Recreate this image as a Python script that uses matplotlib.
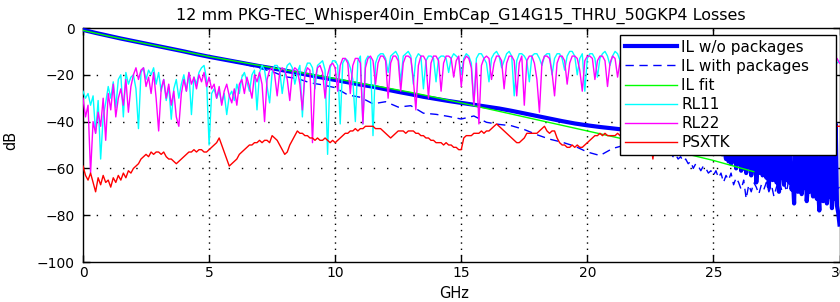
import numpy as np
import matplotlib
matplotlib.use("Agg")
import matplotlib.pyplot as plt

plt.rcParams['font.family'] = ['DejaVu Sans']

TITLE = "12 mm PKG-TEC_Whisper40in_EmbCap_G14G15_THRU_50GKP4 Losses"
LABELS = ["IL w/o packages", "IL with packages", "IL fit", "RL11", "RL22", "PSXTK"]
X_TICKS = [0, 5, 10, 15, 20, 25, 30]
Y_TICKS = [-100, -80, -60, -40, -20, 0]

# ---- IL w/o packages: smooth part (0..23.5 GHz, 0.5 GHz step) ----
il_wo_f_smooth = [0, 0.5, 1, 1.5, 2, 2.5, 3, 3.5, 4, 4.5, 5, 5.5, 6, 6.5, 7, 7.5, 8, 8.5, 9, 9.5,
                  10, 10.5, 11, 11.5, 12, 12.5, 13, 13.5, 14, 14.5, 15, 15.5, 16, 16.5, 17, 17.5,
                  18, 18.5, 19, 19.5, 20, 20.5, 21, 21.5, 22, 22.5, 23, 23.5]
il_wo_smooth = [-0.8, -2.1, -3.3, -4.5, -5.6, -6.7, -7.8, -8.9, -10.0, -11.2, -12.3, -13.3, -14.3, -15.3,
                -16.3, -17.2, -18.2, -19.2, -20.2, -21.2, -22.2, -23.2, -24.2, -25.1, -26.2, -27.3,
                -28.3, -29.4, -30.3, -31.2, -32.0, -32.8, -33.6, -34.4, -35.4, -36.5, -37.6, -38.7,
                -39.8, -40.8, -41.6, -42.3, -42.9, -43.5, -44.0, -44.5, -45.0, -45.5]
# ---- IL w/o packages: noisy tail (24..30 GHz, 0.05 GHz step) ----
il_wo_noisy = [
    -46, -45, -47, -46, -45, -47, -46, -48, -45, -46, -47, -46, -48, -45, -47, -46, -49, -46, -47, -48,
    -47, -51, -46, -53, -48, -52, -47, -54, -49, -53, -56, -50, -57, -48, -58, -52, -57, -47, -60, -55,
    -58, -47, -61, -56, -60, -49, -62, -57, -59, -46, -63, -58, -61, -48, -66, -59, -62, -47, -60, -63,
    -61, -48, -64, -59, -68, -50, -62, -65, -60, -47, -66, -63, -70, -49, -64, -61, -67, -46, -65, -63,
    -66, -48, -69, -64, -75, -51, -67, -70, -65, -45, -71, -66, -68, -47, -74, -67, -70, -44, -68, -72,
    -69, -46, -73, -68, -78, -43, -71, -74, -67, -42, -75, -70, -72, -45, -77, -69, -73, -41, -76, -79,
    -84]

# ---- IL with packages ----
il_w_f_smooth = [0, 0.5, 1, 1.5, 2, 2.5, 3, 3.5, 4, 4.5, 5, 5.5, 6, 6.5, 7, 7.5, 8, 8.5, 9, 9.5,
                 10, 10.5, 11, 11.5, 12, 12.5, 13, 13.5, 14, 14.5, 15, 15.5, 16, 16.5, 17, 17.5,
                 18, 18.5, 19, 19.5, 20, 20.5, 21, 21.5, 22, 22.5, 23]
il_w_smooth = [-1.0, -2.2, -3.4, -4.6, -5.8, -6.9, -8.0, -9.1, -10.2, -11.3, -12.5, -13.5, -14.6, -15.7,
               -17.2, -18.6, -20.8, -21.6, -23.4, -24.3, -25.5, -28.6, -29.6, -32.4, -31.5, -33.8,
               -33.2, -36.4, -36.9, -37.8, -38.9, -37.6, -40.3, -41.2, -41.8, -43.4, -45.6, -47.5,
               -48.8, -50.5, -53.0, -54.5, -51.5, -50.0, -50.5, -51.8, -53.0]
il_w_noisy = [  # 23.1 .. 30.0 GHz, 0.1 GHz step
    -53.5, -54, -53, -55, -54, -56, -55, -57, -56,
    -58, -57, -60, -58, -59, -61, -59, -60, -62, -61,
    -63, -61, -64, -62, -66, -63, -65, -62, -67, -64,
    -66, -69, -65, -73, -67, -70, -66, -68, -71, -67,
    -69, -66, -70, -67, -72, -68, -65, -69, -66, -70,
    -64, -68, -65, -70, -66, -63, -69, -65, -67, -64,
    -66, -70, -64, -68, -65, -71, -63, -67, -66, -69,
    -68]

# ---- IL fit ----
il_fit_f = [0, 1, 2, 3, 4, 5, 6, 7, 8, 9, 10, 11, 12, 13, 14, 15, 16, 17, 18, 19, 20, 21, 22, 23,
            24, 25, 26, 26.6]
il_fit = [-1.0, -3.4, -5.6, -7.8, -10.0, -12.2, -14.1, -16.0, -17.9, -19.7, -21.6, -23.6, -25.5,
          -27.5, -29.7, -32.0, -34.4, -36.8, -39.2, -41.6, -44.0, -46.4, -48.8, -51.4, -54.0,
          -56.6, -59.6, -61.4]

# ---- RL11 (0..30 GHz, 0.1 GHz step) ----
rl11 = [
    -27, -30, -28, -33, -29, -45, -31, -56, -38, -32,
    -25, -30, -23, -34, -22, -20, -38, -19, -24, -21,
    -20, -26, -43, -19, -17, -22, -18, -20, -17, -24,
    -19, -27, -22, -31, -25, -39, -26, -22, -30, -24,
    -20, -27, -19, -37, -21, -24, -19, -17, -16, -22,
    -50, -28, -26, -30, -27, -32, -28, -37, -29, -27,
    -31, -24, -28, -21, -19, -23, -27, -20, -18, -35,
    -19, -16, -18, -25, -32, -19, -16, -16, -18, -28,
    -20, -16, -15, -17, -24, -19, -16, -38, -18, -15,
    -15, -17, -26, -16, -15, -14, -18, -54, -17, -14,
    -14, -16, -41, -15, -13, -14, -17, -22, -40, -14,
    -12, -41, -14, -12, -13, -46, -15, -12, -11, -11,
    -13, -19, -12, -11, -10, -12, -23, -12, -11, -10,
    -12, -24, -13, -11, -12, -26, -14, -12, -12, -13,
    -23, -13, -12, -12, -13, -19, -13, -11, -12, -13,
    -20, -13, -11, -12, -15, -33, -13, -11, -11, -13,
    -15, -23, -13, -11, -10, -12, -17, -14, -11, -10,
    -12, -29, -14, -11, -11, -12, -14, -23, -12, -11,
    -11, -13, -16, -12, -11, -11, -20, -13, -11, -11,
    -13, -18, -12, -10, -10, -12, -20, -13, -11, -27,
    -13, -11, -11, -13, -21, -13, -11, -10, -12, -16,
    -12, -10, -11, -14, -22, -13, -11, -10, -12, -18,
    -12, -10, -11, -15, -21, -13, -11, -10, -12, -19,
    -12, -10, -11, -14, -23, -13, -11, -10, -12, -17,
    -12, -10, -11, -13, -20, -13, -11, -10, -12, -18,
    -12, -10, -11, -14, -22, -13, -11, -10, -12, -16,
    -12, -10, -11, -15, -21, -13, -11, -10, -12, -19,
    -12, -10, -11, -14, -20, -13, -11, -10, -12, -18,
    -12, -10, -11, -13, -22, -13, -11, -10, -12, -17,
    -12, -10, -11, -14, -19, -13, -11, -10, -13, -15,
    -14]

# ---- RL22 (0..30 GHz, 0.1 GHz step) ----
rl22 = [
    -30, -38, -33, -62, -40, -45, -36, -42, -30, -48,
    -28, -35, -24, -38, -30, -26, -33, -22, -36, -25,
    -20, -17, -22, -18, -17, -25, -21, -28, -19, -30,
    -44, -26, -22, -30, -24, -33, -27, -38, -42, -28,
    -22, -27, -19, -24, -21, -26, -20, -23, -19, -25,
    -21, -26, -24, -30, -25, -33, -27, -24, -29, -32,
    -26, -33, -24, -22, -28, -21, -25, -30, -20, -23,
    -19, -24, -40, -22, -18, -17, -20, -29, -19, -17,
    -18, -22, -31, -19, -17, -18, -24, -35, -20, -17,
    -18, -49, -22, -17, -16, -19, -30, -20, -16, -15,
    -17, -27, -16, -13, -13, -15, -28, -16, -13, -13,
    -15, -41, -17, -13, -12, -14, -24, -15, -12, -12,
    -14, -30, -15, -12, -12, -14, -27, -15, -12, -12,
    -13, -22, -35, -16, -12, -12, -14, -30, -15, -12,
    -12, -14, -27, -15, -12, -12, -13, -21, -14, -12,
    -25, -14, -12, -13, -17, -33, -15, -41, -16, -13,
    -12, -13, -22, -15, -12, -12, -14, -26, -15, -12,
    -12, -14, -29, -15, -12, -33, -14, -12, -12, -15,
    -22, -36, -15, -12, -12, -13, -19, -29, -15, -12,
    -12, -14, -24, -15, -12, -12, -13, -18, -27, -14,
    -12, -12, -13, -22, -14, -12, -12, -14, -25, -15,
    -12, -13, -21, -14, -12, -12, -14, -24, -15, -12,
    -12, -13, -20, -14, -12, -12, -13, -26, -15, -12,
    -12, -14, -22, -14, -12, -12, -13, -19, -14, -12,
    -12, -13, -24, -15, -12, -12, -14, -27, -15, -12,
    -12, -13, -21, -14, -12, -12, -13, -23, -14, -12,
    -12, -14, -25, -15, -12, -12, -13, -20, -14, -12,
    -12, -13, -22, -14, -12, -12, -14, -26, -15, -12,
    -12, -13, -19, -14, -12, -12, -13, -24, -15, -12,
    -12, -14, -21, -14, -12, -12, -13, -17, -16, -13,
    -15]

# ---- PSXTK (0..30 GHz, 0.1 GHz step) ----
psxtk = [
    -59, -63, -65, -62, -66, -70, -64, -67, -63, -66,
    -65, -68, -64, -66, -63, -65, -62, -64, -61, -62,
    -60, -59, -58, -56, -55, -54, -55, -53, -54, -53,
    -53, -54, -53, -55, -56, -56, -57, -58, -57, -56,
    -55, -54, -53, -53, -52, -53, -52, -52, -53, -53,
    -52, -51, -50, -49, -47, -50, -53, -56, -59, -58,
    -57, -56, -54, -53, -52, -51, -50, -50, -49, -49,
    -48, -49, -48, -48, -49, -46, -47, -48, -50, -52,
    -54, -53, -50, -48, -46, -44, -45, -45, -46, -46,
    -47, -47, -48, -47, -48, -48, -47, -48, -49, -48,
    -49, -48, -47, -46, -45, -45, -44, -44, -43, -44,
    -43, -43, -42, -42, -42, -42, -43, -43, -43, -44,
    -45, -46, -47, -46, -45, -44, -44, -44, -45, -44,
    -44, -44, -45, -45, -46, -46, -47, -47, -48, -48,
    -49, -49, -49, -50, -49, -50, -50, -51, -51, -52,
    -52, -47, -46, -46, -46, -45, -45, -45, -44, -45,
    -44, -44, -43, -42, -41, -42, -43, -44, -45, -46,
    -47, -48, -49, -49, -48, -47, -45, -45, -45, -45,
    -45, -44, -43, -42, -44, -45, -44, -44, -47, -49,
    -50, -50, -51, -51, -50, -51, -50, -51, -51, -50,
    -49, -48, -47, -46, -46, -45, -46, -45, -46, -46,
    -46, -46, -45, -46, -46, -47, -46, -46, -45, -46,
    -46, -47, -46, -47, -46, -48, -56, -47, -46, -47,
    -46, -45, -46, -47, -46, -45, -46, -45, -46, -47,
    -46, -45, -46, -45, -44, -45, -46, -45, -46, -45,
    -45, -44, -45, -46, -45, -44, -45, -44, -45, -44,
    -44, -45, -44, -43, -44, -45, -44, -43, -44, -43,
    -43, -44, -43, -44, -43, -42, -43, -44, -43, -42,
    -43, -42, -43, -42, -43, -42, -41, -42, -43, -42,
    -42, -43, -42, -41, -42, -43, -42, -41, -42, -42,
    -42]

f_fine = np.arange(len(rl11)) * 0.1
f_il_wo_noisy = 24.0 + np.arange(len(il_wo_noisy)) * 0.05
f_il_w_noisy = 23.1 + np.arange(len(il_w_noisy)) * 0.1

il_wo_f = np.concatenate([il_wo_f_smooth, f_il_wo_noisy])
il_wo = np.concatenate([il_wo_smooth, il_wo_noisy])
il_w_f = np.concatenate([il_w_f_smooth, f_il_w_noisy])
il_w = np.concatenate([il_w_smooth, il_w_noisy])

fig = plt.figure(figsize=(8.4, 3.02), dpi=100)
ax = fig.add_axes([83 / 840, 40 / 302, 756.5 / 840, 234 / 302])

ax.plot(il_wo_f, il_wo, color='#0000FF', lw=3.0, label=LABELS[0], zorder=3)
ax.plot(il_w_f, il_w, color='#0000FF', lw=1.0, ls=(0, (6, 4)), label=LABELS[1], zorder=3)
ax.plot(il_fit_f, il_fit, color='#00FF00', lw=1.0, label=LABELS[2], zorder=3)
ax.plot(f_fine, rl11, color='#00FFFF', lw=1.0, label=LABELS[3], zorder=3)
ax.plot(f_fine, rl22, color='#FF00FF', lw=1.0, label=LABELS[4], zorder=3)
ax.plot(f_fine, psxtk, color='#FF0000', lw=1.0, label=LABELS[5], zorder=3)

ax.set_xlim(0, 30)
ax.set_ylim(-100, 0)
ax.set_xticks(X_TICKS)
ax.set_yticks(Y_TICKS)
ax.set_xticklabels([str(t) for t in X_TICKS])
ax.set_yticklabels([str(t).replace('-', '\u2212') for t in Y_TICKS])
ax.tick_params(direction='in', length=5, width=1, top=True, right=True,
               labelsize=10, colors='black')
ax.tick_params(axis='x', pad=3)
ax.tick_params(axis='y', pad=6)
for s in ax.spines.values():
    s.set_linewidth(1.0)
    s.set_color('black')

for t in X_TICKS[1:-1]:
    ax.axvline(t, color='black', lw=1.0, ls=(0, (1, 3.5)), zorder=1)
for t in Y_TICKS[1:-1]:
    ax.axhline(t, color='black', lw=1.0, ls=(0, (1, 8.5)), zorder=1)

ax.set_title(TITLE, fontsize=11.5, pad=6)
ax.set_xlabel("GHz", fontsize=10.5, va='center')
ax.xaxis.set_label_coords((454 - 83) / 756.5, (262 - 293) / 234)
ax.set_ylabel("dB", fontsize=10.5, va='center')
ax.yaxis.set_label_coords((11 - 83) / 756.5, (262 - 140) / 234)

leg = ax.legend(loc='upper left', bbox_to_anchor=(0.710, 0.457, 0.285, 0.513), mode='expand',
                fontsize=11, frameon=True, fancybox=False, framealpha=1.0, borderpad=0.3,
                labelspacing=0.27, handlelength=3.45, handletextpad=0.25, borderaxespad=0.0)
leg.get_frame().set_edgecolor('black')
leg.get_frame().set_linewidth(1.0)
leg.set_zorder(10)

fig.savefig("out.png", dpi=100)
